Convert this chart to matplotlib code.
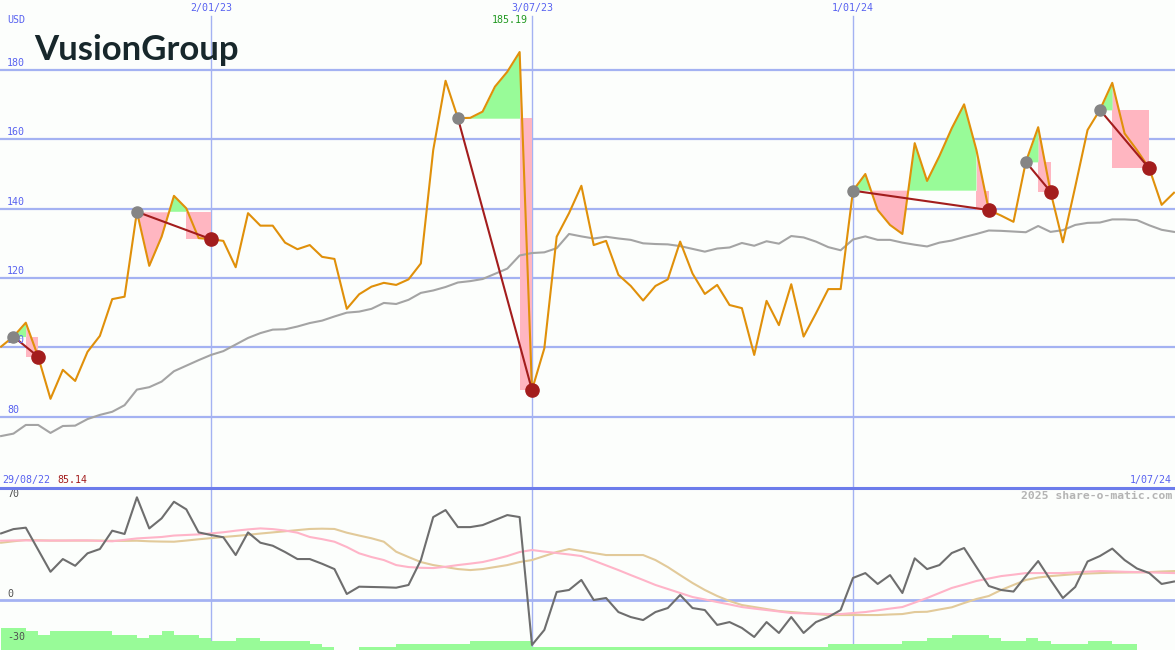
import pandas as pd
import matplotlib.pyplot as plt

# weekly closes, 5 Sep 2022 .. 1 Jul 2024
weeks = pd.date_range('2022-09-05', periods=96, freq='7D')

price = [100.2, 103.1, 107.1, 97.3, 85.14, 93.5, 90.3, 98.7, 103.3, 113.9,
         114.6, 139.1, 123.5, 131.9, 143.7, 140.1, 131.5, 131.2, 130.7, 123.1,
         138.7, 135.1, 135.1, 130.2, 128.3, 129.5, 126.1, 125.5, 111.1, 115.3,
         117.5, 118.6, 118.0, 119.6, 124.2, 156.9, 176.9, 166.1, 166.2, 168.0,
         175.2, 179.5, 185.19, 87.7, 99.7, 131.9, 138.7, 146.6, 129.5, 130.7,
         120.9, 117.7, 113.5, 117.7, 119.6, 130.5, 121.3, 115.4, 118.0, 112.2,
         111.3, 97.8, 113.4, 106.4, 118.2, 103.1, 109.8, 116.8, 116.8, 145.2,
         150.0, 139.6, 135.3, 132.7, 158.9, 148.0, 155.2, 163.2, 170.1, 156.9,
         139.6, 138.0, 136.2, 153.5, 163.5, 144.9, 130.3, 146.3, 162.7, 168.5,
         176.3, 161.7, 156.9, 151.6, 141.1, 144.6]

avg_long = [74.4, 75.1, 77.6, 77.6, 75.3, 77.3, 77.4, 79.3, 80.5, 81.4,
            83.3, 87.8, 88.5, 90.1, 93.1, 94.7, 96.3, 97.8, 98.9, 100.8,
            102.7, 104.1, 105.1, 105.2, 106.0, 107.0, 107.7, 108.9, 110.0, 110.3,
            111.1, 112.8, 112.5, 113.7, 115.7, 116.4, 117.4, 118.7, 119.1, 119.7,
            121.2, 122.7, 126.5, 127.2, 127.4, 128.6, 132.7, 132.0, 131.4, 131.9,
            131.4, 131.0, 130.0, 129.8, 129.7, 129.2, 128.4, 127.6, 128.5, 128.8,
            130.1, 129.3, 130.6, 129.9, 132.1, 131.7, 130.5, 128.9, 128.0, 131.1,
            132.0, 131.0, 131.0, 130.2, 129.6, 129.1, 130.2, 130.8, 131.8, 132.7,
            133.7, 133.6, 133.4, 133.2, 135.0, 133.3, 133.8, 135.3, 135.9, 136.0,
            136.9, 136.9, 136.7, 135.2, 133.9, 133.3]

# (entry week, exit week, week where the drop starts)
trades = [(1, 3, 2), (11, 17, 15), (37, 43, 42), (69, 80, 79), (83, 85, 84), (89, 93, 90)]

osc = [46.5, 49.5, 50.5, 35.1, 19.7, 28.6, 23.9, 32.6, 35.6, 48.4,
       46.1, 71.7, 50.0, 57.0, 68.6, 63.3, 47.2, 45.4, 43.8, 31.4,
       47.2, 40.0, 37.9, 33.5, 28.6, 28.6, 25.3, 21.6, 4.2, 9.3,
       9.1, 8.9, 8.6, 10.5, 27.9, 57.9, 62.8, 50.9, 50.9, 52.3,
       55.8, 59.3, 57.9, -31.4, -20.9, 5.6, 7.0, 14.0, 0.0, 1.4,
       -8.4, -11.9, -14.0, -8.4, -5.6, 3.5, -5.6, -7.0, -17.4, -15.4,
       -19.5, -25.8, -15.4, -23.0, -11.9, -23.0, -15.4, -11.9, -7.0, 15.4,
       18.8, 11.2, 17.4, 4.9, 29.1, 21.6, 24.4, 32.8, 36.3, 23.0,
       9.8, 7.0, 5.9, 16.7, 27.2, 14.0, 1.4, 9.1, 26.9, 30.7,
       35.9, 27.9, 22.0, 18.8, 11.2, 12.9]

osc_fast = [41.4, 41.6, 41.6, 41.5, 41.5, 41.5, 41.6, 41.6, 41.3, 41.0,
            42.0, 43.0, 43.5, 44.0, 45.0, 45.4, 45.8, 46.5, 47.3, 48.4,
            49.3, 50.0, 49.5, 48.5, 47.0, 44.0, 42.5, 40.7, 37.0, 32.6,
            30.0, 27.9, 24.4, 23.0, 22.5, 22.3, 23.2, 24.4, 25.4, 26.5,
            28.5, 30.7, 33.5, 34.9, 33.8, 32.8, 31.8, 30.7, 27.5, 24.2,
            20.9, 17.4, 14.0, 10.5, 7.7, 4.9, 2.1, 0.4, -1.4, -3.1,
            -4.9, -6.0, -7.0, -8.0, -9.1, -9.3, -9.5, -9.8, -9.8, -9.1,
            -8.4, -7.2, -6.0, -4.9, -1.8, 1.4, 4.9, 8.4, 10.8, 13.3,
            15.0, 16.7, 17.7, 18.8, 18.8, 18.8, 18.8, 19.3, 19.8, 20.2,
            20.0, 19.7, 19.5, 19.3, 19.0, 18.8]

osc_slow = [40.0, 41.0, 41.9, 41.7, 41.5, 41.5, 41.5, 41.5, 41.5, 41.3,
            41.3, 41.4, 41.0, 40.8, 40.7, 41.5, 42.4, 43.2, 44.0, 44.7,
            45.5, 46.4, 47.2, 48.0, 48.8, 49.6, 49.8, 49.6, 47.0, 45.0,
            43.1, 40.7, 33.7, 30.0, 26.5, 24.4, 23.0, 21.6, 20.9, 21.6,
            23.0, 24.4, 26.5, 27.9, 30.7, 33.5, 35.6, 34.2, 32.8, 31.4,
            31.4, 31.4, 31.4, 27.9, 23.0, 17.4, 11.9, 7.0, 2.8, -0.7,
            -3.5, -4.9, -6.3, -7.7, -8.4, -9.1, -9.8, -10.5, -10.5, -10.5,
            -10.5, -10.5, -10.1, -9.8, -8.4, -8.2, -6.6, -5.1, -2.1, 0.7,
            2.8, 7.0, 10.5, 14.0, 15.7, 16.7, 17.4, 18.1, 18.5, 18.8,
            19.1, 19.2, 19.3, 19.5, 19.9, 20.2]

vol_bars = [-19.3, -19.3, -21.6, -24.4, -21.6, -21.6, -21.6, -21.6, -21.6, -24.4,
            -24.4, -26.7, -24.4, -21.6, -24.4, -24.4, -26.7, -28.6, -28.6, -26.3,
            -26.3, -28.6, -28.6, -28.6, -28.6, -30.7, -33.0, -35.0, -35.0, -33.0,
            -33.0, -33.0, -30.7, -30.7, -30.7, -30.7, -30.7, -30.7, -28.6, -28.6,
            -28.6, -28.6, -28.6, -33.0, -33.0, -33.0, -33.0, -33.0, -33.0, -33.0,
            -33.0, -33.0, -33.0, -33.0, -33.0, -33.0, -33.0, -33.0, -33.0, -33.0,
            -33.0, -33.0, -33.0, -33.0, -33.0, -33.0, -33.0, -30.7, -30.7, -30.7,
            -30.7, -30.7, -30.7, -28.6, -28.6, -26.3, -26.3, -24.4, -24.4, -24.4,
            -26.3, -28.6, -28.6, -26.3, -28.6, -30.7, -30.7, -30.7, -28.6, -28.6,
            -30.7, -30.7, -35.0, -35.0, -35.0, -35.0]

price_grid = [80, 100, 120, 140, 160, 180]
date_marks = ['2023-01-02', '2023-07-03', '2024-01-01']
date_labels = ['2/01/23', '3/07/23', '1/01/24']

W, H = 1175, 650
bg = '#fcfefc'
blue_txt = '#5862f0'
grid_c = '#a4b2f2'
orange = '#e0900a'
green = '#98fb98'
pink = '#ffb6c1'
darkred = '#a31d1d'
mono = 'DejaVu Sans Mono'

fig = plt.figure(figsize=(W / 100, H / 100), dpi=100, facecolor=bg)
ax = fig.add_axes([0, 163 / H, 1, 487 / H], facecolor=bg)
ax2 = fig.add_axes([0, 0, 1, 163 / H], facecolor=bg)

x0 = weeks[0] - pd.Timedelta(hours=15)
x1 = x0 + pd.Timedelta(days=666.2)
for a in (ax, ax2):
    a.set_xlim(x0, x1)
    a.set_xticks([])
    a.set_yticks([])
    for s in a.spines.values():
        s.set_visible(False)

ax.set_ylim(59.7, 200.2)
ax2.set_ylim(-34.9, 78.9)

# grid
for g in price_grid:
    ax.axhline(g, color=grid_c, lw=1.6, zorder=1)
    ax.text(7 / W, g + 0.6, str(g), transform=ax.get_yaxis_transform(),
            fontsize=7.2, family=mono, color=blue_txt, va='bottom', zorder=6)
for d in date_marks:
    ax.axvline(pd.Timestamp(d), ymax=1 - 16 / 487, color=grid_c, lw=1.0, zorder=1)
    ax2.axvline(pd.Timestamp(d), color=grid_c, lw=1.0, zorder=1)
ax2.axhline(0, color=grid_c, lw=2.0, zorder=1)

# trades
s = pd.Series(price)
for i0, i1, k in trades:
    e = price[i0]
    xs = weeks[i0:k + 1]
    ys = s[i0:k + 1].values
    ax.fill_between(xs, ys, e, where=ys >= e, interpolate=True, color=green, lw=0, zorder=2)
    ax.fill_between(xs, ys, e, where=ys <= e, interpolate=True, color=pink, lw=0, zorder=2)
    xs2 = weeks[k:i1 + 1]
    ys2 = s[k:i1 + 1].values
    ax.fill_between(xs2, price[i1], e, color=pink, lw=0, zorder=2)
    ax.fill_between(xs2, ys2, e, where=ys2 >= e, interpolate=True, color=pink, lw=0, zorder=2)

ax.plot(weeks, avg_long, color='#a4a4a4', lw=1.5, zorder=3)
ax.plot(weeks, price, color=orange, lw=1.5, zorder=4)

for i0, i1, k in trades:
    ax.plot([weeks[i0], weeks[i1]], [price[i0], price[i1]], color=darkred, lw=1.5, zorder=5)
    ax.plot(weeks[i0], price[i0], 'o', ms=8, color='#858585', zorder=6)
    ax.plot(weeks[i1], price[i1], 'o', ms=9.5, color=darkred, zorder=6)

# lower panel
ax2.bar(weeks, [v + 34.9 for v in vol_bars], bottom=-34.9, width=7, align='edge',
        color=green, lw=0, zorder=2)
ax2.plot(weeks, osc_slow, color='#e2ca9a', lw=1.5, zorder=3)
ax2.plot(weeks, osc_fast, color='#ffb4c8', lw=1.5, zorder=3)
ax2.plot(weeks, osc, color='#6e6e6e', lw=1.5, zorder=4)
for v, lab in [(70, '70'), (0, '0'), (-30, '-30')]:
    ax2.text(7 / W, v + 0.5, lab, transform=ax2.get_yaxis_transform(),
             fontsize=7.2, family=mono, color='#505050', va='bottom', zorder=6)

# separator between panels
fig.add_artist(plt.Line2D([0, 1], [1 - 487.5 / H] * 2, color='#6c7ceb', lw=2.2))

# texts
def ftext(px, py, t, **kw):
    fig.text(px / W, 1 - py / H, t, **kw)

for d, lab in zip(date_marks, date_labels):
    xf = (pd.Timestamp(d) - x0) / (x1 - x0)
    fig.text(xf, 1 - 8 / H, lab, ha='center', va='center', fontsize=7.2,
             family=mono, color=blue_txt)
ftext(7, 20, 'USD', fontsize=7.2, family=mono, color=blue_txt, va='center')
ftext(528, 20, '185.19', fontsize=7.2, family=mono, color='#229922', va='center', ha='right')
ftext(2, 480, '29/08/22', fontsize=7.2, family=mono, color=blue_txt, va='center')
ftext(57, 480, '85.14', fontsize=7.2, family=mono, color=darkred, va='center')
ftext(1172, 480, '1/07/24', fontsize=7.2, family=mono, color=blue_txt, va='center', ha='right')
ftext(1172, 496, '2025 share-o-matic.com', fontsize=8.2, family=mono, weight='bold',
      color='#b4b4b4', va='center', ha='right')
ftext(34, 50, 'VusionGroup', fontsize=25, family='Lato', weight='bold',
      color='#17272b', va='center')

fig.savefig('out.png', dpi=100, facecolor=bg)
